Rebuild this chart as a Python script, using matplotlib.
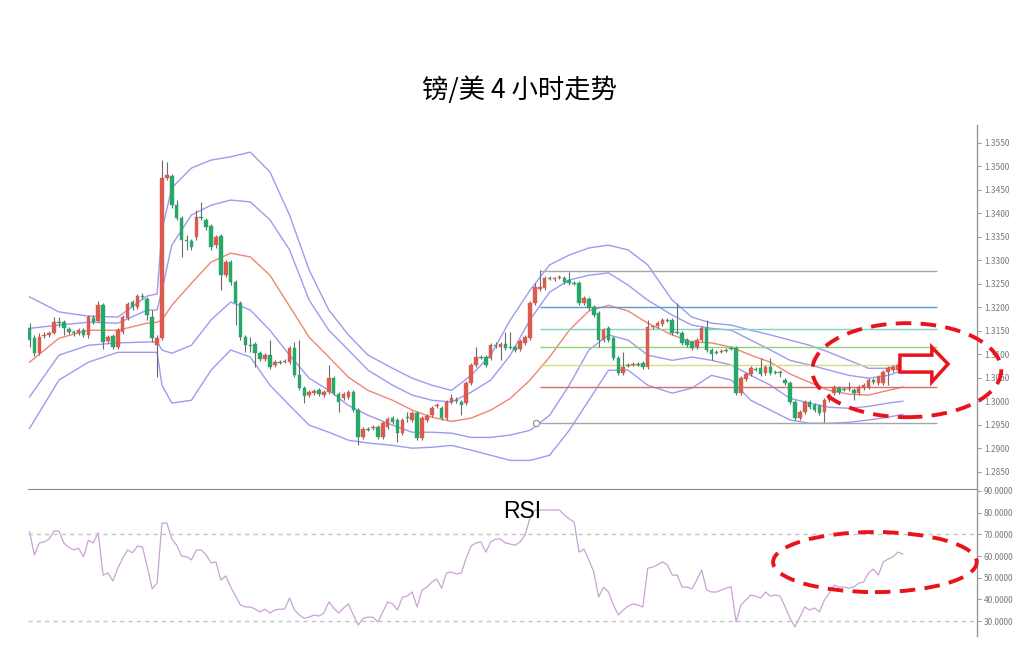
import matplotlib
matplotlib.use("Agg")
import matplotlib.pyplot as plt
from matplotlib.patches import Ellipse, Polygon
from matplotlib.ticker import FormatStrFormatter, MultipleLocator

plt.rcParams['font.family'] = ['Noto Sans CJK SC', 'DejaVu Sans']

# ---- 4h candles (GBP/USD) ----
opens = [1.3155, 1.3134, 1.3102, 1.3138, 1.3141, 1.3145, 1.3168, 1.3168, 1.3153, 1.3147,
         1.3145, 1.3151, 1.3141, 1.3177, 1.3170, 1.3204, 1.3128, 1.3138, 1.3115, 1.3147,
         1.3177, 1.3211, 1.3200, 1.3224, 1.3217, 1.3179, 1.3119, 1.3134, 1.3475, 1.3479,
         1.3417, 1.3390, 1.3343, 1.3341, 1.3349, 1.3392, 1.3386, 1.3373, 1.3332, 1.3351,
         1.3268, 1.3296, 1.3253, 1.3209, 1.3136, 1.3119, 1.3121, 1.3102, 1.3089, 1.3098,
         1.3077, 1.3083, 1.3083, 1.3083, 1.3113, 1.3055, 1.3028, 1.3013, 1.3017, 1.3023,
         1.3013, 1.3019, 1.3049, 1.3015, 1.3006, 1.3009, 1.3019, 1.2981, 1.2923, 1.2940,
         1.2942, 1.2945, 1.2923, 1.2945, 1.2964, 1.2960, 1.2932, 1.2966, 1.2960, 1.2974,
         1.2921, 1.2960, 1.2970, 1.2989, 1.2985, 1.2964, 1.2998, 1.3002, 1.2998, 1.2996,
         1.3038, 1.3077, 1.3094, 1.3094, 1.3092, 1.3119, 1.3115, 1.3121, 1.3115, 1.3115,
         1.3111, 1.3124, 1.3134, 1.3209, 1.3239, 1.3241, 1.3262, 1.3260, 1.3262, 1.3262,
         1.3258, 1.3251, 1.3251, 1.3209, 1.3217, 1.3200, 1.3187, 1.3130, 1.3155, 1.3134,
         1.3092, 1.3060, 1.3077, 1.3077, 1.3079, 1.3081, 1.3072, 1.3158, 1.3160, 1.3164,
         1.3173, 1.3173, 1.3147, 1.3145, 1.3130, 1.3126, 1.3115, 1.3130, 1.3155, 1.3109,
         1.3104, 1.3104, 1.3109, 1.3113, 1.3113, 1.3017, 1.3047, 1.3058, 1.3068, 1.3070,
         1.3060, 1.3072, 1.3062, 1.3062, 1.3045, 1.3038, 1.2998, 1.2964, 1.2977, 1.2998,
         1.2991, 1.2989, 1.2977, 1.3002, 1.3017, 1.3028, 1.3026, 1.3026, 1.3023, 1.3017,
         1.3028, 1.3030, 1.3045, 1.3038, 1.3038, 1.3062, 1.3066, 1.3066, 1.3075]
closes = [1.3130, 1.3102, 1.3136, 1.3141, 1.3145, 1.3168, 1.3167, 1.3155, 1.3147, 1.3145,
          1.3151, 1.3141, 1.3179, 1.3168, 1.3204, 1.3126, 1.3136, 1.3115, 1.3151, 1.3179,
          1.3207, 1.3200, 1.3224, 1.3222, 1.3183, 1.3134, 1.3134, 1.3475, 1.3481, 1.3417,
          1.3390, 1.3343, 1.3341, 1.3328, 1.3392, 1.3390, 1.3371, 1.3328, 1.3349, 1.3268,
          1.3296, 1.3253, 1.3209, 1.3136, 1.3119, 1.3117, 1.3102, 1.3089, 1.3098, 1.3072,
          1.3083, 1.3081, 1.3085, 1.3113, 1.3055, 1.3028, 1.3011, 1.3019, 1.3021, 1.3015,
          1.3019, 1.3049, 1.3017, 1.2998, 1.3015, 1.3019, 1.2981, 1.2923, 1.2940, 1.2938,
          1.2945, 1.2923, 1.2953, 1.2962, 1.2955, 1.2932, 1.2960, 1.2964, 1.2974, 1.2921,
          1.2964, 1.2968, 1.2985, 1.2991, 1.2964, 1.2998, 1.3006, 1.3000, 1.2991, 1.3038,
          1.3077, 1.3094, 1.3092, 1.3077, 1.3119, 1.3117, 1.3121, 1.3113, 1.3113, 1.3109,
          1.3128, 1.3136, 1.3209, 1.3243, 1.3243, 1.3262, 1.3260, 1.3262, 1.3264, 1.3253,
          1.3251, 1.3249, 1.3209, 1.3219, 1.3198, 1.3183, 1.3130, 1.3151, 1.3130, 1.3092,
          1.3060, 1.3072, 1.3075, 1.3079, 1.3077, 1.3072, 1.3158, 1.3160, 1.3166, 1.3173,
          1.3170, 1.3145, 1.3145, 1.3124, 1.3119, 1.3113, 1.3130, 1.3155, 1.3109, 1.3100,
          1.3102, 1.3106, 1.3107, 1.3111, 1.3017, 1.3049, 1.3058, 1.3070, 1.3066, 1.3058,
          1.3072, 1.3060, 1.3060, 1.3060, 1.3038, 1.2998, 1.2964, 1.2977, 1.2998, 1.2987,
          1.2981, 1.2974, 1.3002, 1.3013, 1.3030, 1.3019, 1.3024, 1.3028, 1.3017, 1.3030,
          1.3034, 1.3045, 1.3040, 1.3051, 1.3062, 1.3070, 1.3072, 1.3077, 1.3079]
highs = [1.3166, 1.3141, 1.3145, 1.3147, 1.3149, 1.3179, 1.3179, 1.3173, 1.3158, 1.3151,
         1.3155, 1.3155, 1.3183, 1.3183, 1.3213, 1.3209, 1.3141, 1.3143, 1.3155, 1.3183,
         1.3211, 1.3215, 1.3228, 1.3230, 1.3222, 1.3194, 1.3141, 1.3513, 1.3509, 1.3484,
         1.3428, 1.3394, 1.3354, 1.3345, 1.3407, 1.3424, 1.3390, 1.3377, 1.3354, 1.3356,
         1.3300, 1.3300, 1.3258, 1.3213, 1.3141, 1.3136, 1.3126, 1.3106, 1.3102, 1.3130,
         1.3087, 1.3087, 1.3089, 1.3117, 1.3126, 1.3130, 1.3032, 1.3023, 1.3026, 1.3028,
         1.3023, 1.3077, 1.3053, 1.3019, 1.3019, 1.3023, 1.3023, 1.2985, 1.2945, 1.2945,
         1.2949, 1.2949, 1.2957, 1.2966, 1.2968, 1.2964, 1.2964, 1.2977, 1.2979, 1.2979,
         1.2968, 1.2972, 1.2989, 1.2996, 1.2989, 1.3002, 1.3015, 1.3009, 1.3002, 1.3043,
         1.3081, 1.3115, 1.3098, 1.3098, 1.3124, 1.3126, 1.3126, 1.3147, 1.3147, 1.3119,
         1.3132, 1.3141, 1.3213, 1.3251, 1.3279, 1.3266, 1.3266, 1.3264, 1.3268, 1.3266,
         1.3275, 1.3256, 1.3256, 1.3224, 1.3222, 1.3204, 1.3192, 1.3155, 1.3160, 1.3138,
         1.3096, 1.3104, 1.3081, 1.3083, 1.3083, 1.3085, 1.3173, 1.3162, 1.3170, 1.3177,
         1.3177, 1.3177, 1.3209, 1.3149, 1.3134, 1.3130, 1.3134, 1.3160, 1.3173, 1.3113,
         1.3109, 1.3111, 1.3113, 1.3117, 1.3117, 1.3053, 1.3062, 1.3075, 1.3072, 1.3092,
         1.3077, 1.3092, 1.3066, 1.3066, 1.3049, 1.3043, 1.3002, 1.2981, 1.3002, 1.3002,
         1.2996, 1.2994, 1.3006, 1.3017, 1.3034, 1.3032, 1.3030, 1.3040, 1.3028, 1.3034,
         1.3038, 1.3049, 1.3049, 1.3055, 1.3066, 1.3075, 1.3077, 1.3083, 1.3083]
lows = [1.3115, 1.3096, 1.3098, 1.3134, 1.3136, 1.3143, 1.3158, 1.3141, 1.3143, 1.3138,
        1.3141, 1.3136, 1.3134, 1.3164, 1.3168, 1.3111, 1.3124, 1.3111, 1.3111, 1.3143,
        1.3173, 1.3194, 1.3196, 1.3217, 1.3173, 1.3126, 1.3051, 1.3130, 1.3471, 1.3411,
        1.3386, 1.3307, 1.3322, 1.3322, 1.3343, 1.3386, 1.3364, 1.3322, 1.3326, 1.3236,
        1.3264, 1.3247, 1.3162, 1.3130, 1.3104, 1.3104, 1.3072, 1.3085, 1.3085, 1.3068,
        1.3072, 1.3079, 1.3081, 1.3079, 1.3051, 1.3023, 1.2996, 1.3009, 1.3013, 1.3011,
        1.3009, 1.3015, 1.3013, 1.2977, 1.3002, 1.3004, 1.2977, 1.2906, 1.2919, 1.2936,
        1.2938, 1.2919, 1.2919, 1.2940, 1.2951, 1.2913, 1.2928, 1.2955, 1.2955, 1.2917,
        1.2917, 1.2955, 1.2966, 1.2985, 1.2960, 1.2960, 1.2994, 1.2996, 1.2970, 1.2991,
        1.3034, 1.3072, 1.3089, 1.3072, 1.3087, 1.3113, 1.3087, 1.3109, 1.3111, 1.3104,
        1.3106, 1.3119, 1.3130, 1.3204, 1.3234, 1.3236, 1.3258, 1.3256, 1.3260, 1.3249,
        1.3247, 1.3247, 1.3204, 1.3204, 1.3194, 1.3179, 1.3115, 1.3126, 1.3126, 1.3087,
        1.3055, 1.3055, 1.3072, 1.3075, 1.3075, 1.3068, 1.3068, 1.3153, 1.3155, 1.3160,
        1.3168, 1.3141, 1.3143, 1.3119, 1.3115, 1.3109, 1.3111, 1.3126, 1.3104, 1.3087,
        1.3100, 1.3102, 1.3104, 1.3109, 1.3013, 1.3013, 1.3043, 1.3053, 1.3064, 1.3053,
        1.3055, 1.3055, 1.3058, 1.3051, 1.3034, 1.2994, 1.2960, 1.2960, 1.2972, 1.2983,
        1.2977, 1.2970, 1.2955, 1.2998, 1.3013, 1.3015, 1.3021, 1.3021, 1.3002, 1.3013,
        1.3023, 1.3026, 1.3036, 1.3034, 1.3034, 1.3034, 1.3062, 1.3062, 1.3072]

# ---- Bollinger bands, read at selected candles ----
band_idx = [0, 6, 12, 18, 24, 26, 27, 29, 33, 37, 41, 45, 49, 53, 57, 61, 65, 69, 74, 78,
            82, 86, 90, 94, 98, 102, 106, 110, 114, 118, 122, 126, 131, 135, 139, 143, 147,
            151, 155, 159, 163, 167, 171, 175, 178]
bb_mid = [1.3083, 1.3134, 1.3151, 1.3151, 1.3166, 1.3168, 1.3173, 1.3204, 1.3251, 1.3296,
          1.3315, 1.3307, 1.3268, 1.3202, 1.3136, 1.3094, 1.3051, 1.3023, 1.3002, 1.2981,
          1.2966, 1.2957, 1.2964, 1.2981, 1.3006, 1.3045, 1.3094, 1.3151, 1.3192, 1.3204,
          1.3192, 1.3166, 1.3141, 1.3126, 1.3124, 1.3115, 1.3098, 1.3083, 1.3058, 1.3040,
          1.3023, 1.3015, 1.3013, 1.3023, 1.3030]
bb_up2 = [1.3222, 1.3190, 1.3181, 1.3179, 1.3224, 1.3228, 1.3364, 1.3454, 1.3496, 1.3513,
          1.3520, 1.3530, 1.3488, 1.3396, 1.3279, 1.3194, 1.3141, 1.3098, 1.3070, 1.3049,
          1.3034, 1.3023, 1.3055, 1.3098, 1.3173, 1.3236, 1.3290, 1.3311, 1.3326, 1.3332,
          1.3322, 1.3290, 1.3215, 1.3179, 1.3166, 1.3162, 1.3151, 1.3141, 1.3130, 1.3119,
          1.3104, 1.3087, 1.3070, 1.3070, 1.3081]
bb_up1 = [1.3155, 1.3162, 1.3168, 1.3166, 1.3194, 1.3194, 1.3236, 1.3332, 1.3396, 1.3417,
          1.3428, 1.3424, 1.3386, 1.3322, 1.3215, 1.3151, 1.3109, 1.3066, 1.3034, 1.3013,
          1.3002, 1.2998, 1.3019, 1.3045, 1.3098, 1.3173, 1.3232, 1.3258, 1.3268, 1.3273,
          1.3247, 1.3215, 1.3183, 1.3162, 1.3155, 1.3151, 1.3130, 1.3109, 1.3087, 1.3077,
          1.3066, 1.3055, 1.3049, 1.3055, 1.3066]
bb_lo1 = [1.3009, 1.3098, 1.3119, 1.3124, 1.3126, 1.3126, 1.3109, 1.3102, 1.3119, 1.3173,
          1.3211, 1.3194, 1.3151, 1.3098, 1.3049, 1.3023, 1.2991, 1.2970, 1.2949, 1.2934,
          1.2934, 1.2932, 1.2923, 1.2923, 1.2928, 1.2938, 1.2970, 1.3034, 1.3109, 1.3141,
          1.3130, 1.3098, 1.3087, 1.3094, 1.3087, 1.3077, 1.3055, 1.3034, 1.3006, 1.2996,
          1.2987, 1.2985, 1.2989, 1.2996, 1.3000]
bb_lo2 = [1.2942, 1.3045, 1.3083, 1.3104, 1.3104, 1.3104, 1.3034, 1.2996, 1.3002, 1.3066,
          1.3109, 1.3094, 1.3034, 1.2991, 1.2949, 1.2934, 1.2917, 1.2911, 1.2906, 1.2900,
          1.2902, 1.2906, 1.2896, 1.2885, 1.2874, 1.2874, 1.2885, 1.2938, 1.3002, 1.3066,
          1.3066, 1.3034, 1.3017, 1.3028, 1.3055, 1.3045, 1.3002, 1.2981, 1.2960, 1.2953,
          1.2953, 1.2955, 1.2960, 1.2966, 1.2972]

# ---- Fibonacci retracement ----
fib_high = 1.3278
fib_low = 1.2953
fib_ratios = [0.0, 0.236, 0.382, 0.5, 0.618, 0.764, 1.0]
fib_colors = ['#a6a6a6', '#5b9bd5', '#7fd6bd', '#8fd27a', '#d2df7c', '#e06a6a', '#a6a6a6']
fib_start, fib_end = 104, 185

# ---- RSI, one value per candle ----
rsi = [71.2, 60.5, 66.0, 66.5, 67.8, 71.5, 71.5, 66.0, 64.0, 62.8,
       63.6, 59.6, 67.3, 66.0, 70.8, 51.2, 52.2, 48.5, 54.4, 59.0,
       62.8, 61.5, 64.6, 64.2, 55.0, 44.8, 47.5, 75.2, 75.2, 67.8,
       65.0, 60.0, 59.6, 58.2, 62.8, 62.8, 60.5, 56.8, 57.3, 48.9,
       50.8, 45.7, 41.5, 37.4, 36.5, 36.5, 35.5, 34.2, 35.5, 33.7,
       35.1, 35.5, 35.5, 40.6, 35.1, 32.8, 31.3, 31.8, 32.8, 32.3,
       33.7, 38.8, 36.0, 33.7, 36.0, 37.9, 32.8, 28.2, 31.3, 31.8,
       31.8, 29.6, 34.2, 38.8, 37.9, 35.1, 41.0, 41.5, 43.4, 36.5,
       44.3, 45.7, 48.0, 49.4, 45.2, 52.2, 52.6, 51.7, 52.2, 59.0,
       64.6, 66.0, 66.5, 61.8, 66.5, 67.8, 67.8, 66.0, 65.5, 65.0,
       66.5, 69.7, 77.5, 81.2, 81.2, 81.2, 81.2, 81.2, 81.2, 78.9,
       77.1, 75.7, 61.8, 63.2, 58.2, 52.6, 41.1, 45.7, 43.4, 37.4,
       32.8, 35.1, 36.9, 37.9, 37.4, 36.5, 54.4, 54.9, 55.9, 57.3,
       55.9, 51.2, 51.2, 45.7, 45.7, 44.8, 48.9, 53.5, 44.3, 43.4,
       43.4, 44.3, 45.2, 45.7, 29.6, 37.4, 39.7, 42.0, 41.5, 40.6,
       43.4, 41.5, 42.0, 41.5, 36.5, 31.3, 27.3, 31.8, 36.5, 35.1,
       36.0, 34.2, 39.7, 42.9, 46.6, 45.7, 45.7, 45.2, 45.7, 47.5,
       48.0, 52.2, 54.0, 51.2, 57.3, 58.6, 59.6, 61.8, 60.9]
rsi_levels = [70, 30]

UP_COL = '#dc5a4e'
DOWN_COL = '#27a86b'
BAND_COL = '#9b9cf0'
MID_COL = '#f08572'
MARK_COL = '#e8141c'

fig = plt.figure(figsize=(10.23, 6.5), dpi=100)
ax = fig.add_axes([0.0274, 0.2477, 0.9276, 0.56])
ax_rsi = fig.add_axes([0.0274, 0.0215, 0.9276, 0.2262])

xmin, xmax = -0.3, 193.1

# candles
for i in range(len(closes)):
    o, c, h, l = opens[i], closes[i], highs[i], lows[i]
    col = UP_COL if c >= o else DOWN_COL
    ax.vlines(i, l, h, color='#6b6b6b', lw=0.8, zorder=2)
    ax.bar(i, max(abs(c - o), 0.00006), bottom=min(o, c), width=0.72,
           color=col, edgecolor=col, lw=0.3, zorder=3)

# bands
for band in (bb_up2, bb_up1, bb_lo1, bb_lo2):
    ax.plot(band_idx, band, color=BAND_COL, lw=1.0, zorder=1)
ax.plot(band_idx, bb_mid, color=MID_COL, lw=1.0, zorder=1)

# fibonacci lines
for r, fc in zip(fib_ratios, fib_colors):
    lvl = fib_high - (fib_high - fib_low) * r
    ax.hlines(lvl, fib_start, fib_end, color=fc, lw=1.0, zorder=1)
ax.plot(fib_start - 0.8, fib_low, 'o', ms=4.5, mfc='white', mec='#8a8a8a', mew=0.8, zorder=4)

ax.set_xlim(xmin, xmax)
ax.set_ylim(1.28132, 1.35877)
ax.yaxis.set_major_locator(MultipleLocator(0.005))
ax.yaxis.set_major_formatter(FormatStrFormatter('%.4f'))

# RSI
ax_rsi.plot(range(len(rsi)), rsi, color='#c9a3d3', lw=0.9)
for lv in rsi_levels:
    ax_rsi.axhline(lv, color='#c4c4c4', lw=1.0, ls=(0, (3, 3)))
ax_rsi.set_xlim(xmin, xmax)
ax_rsi.set_ylim(23.1, 90.9)
ax_rsi.set_yticks([30, 40, 50, 60, 70, 80, 90])
ax_rsi.yaxis.set_major_formatter(FormatStrFormatter('%.4f'))

for a in (ax, ax_rsi):
    for s in ('top', 'left', 'bottom'):
        a.spines[s].set_visible(False)
    a.spines['right'].set_color('#9a9a9a')
    a.spines['right'].set_linewidth(1.0)
    a.set_xticks([])
    a.yaxis.tick_right()
    a.tick_params(axis='y', labelsize=6, colors='#9a9a9a', labelcolor='#7a7a7a',
                  length=3, width=0.8, pad=2)
    a.set_facecolor('none')
ax.spines['bottom'].set_visible(True)
ax.spines['bottom'].set_color('#8a8a8a')

# annotations: dashed ellipses and hollow arrow
ax.add_patch(Ellipse((178.8, 1.3066), 38.5, 0.0200, fill=False, ec=MARK_COL, lw=2.8,
                     ls=(0, (4, 2.4)), clip_on=False, zorder=6))
arrow_pts = [(177.4, 1.3098), (183.9, 1.3098), (183.9, 1.3115), (187.2, 1.3079),
             (183.9, 1.3041), (183.9, 1.3062), (177.4, 1.3062)]
ax.add_patch(Polygon(arrow_pts, closed=True, fc='white', ec=MARK_COL, lw=2.5,
                     clip_on=False, zorder=7))
ax_rsi.add_patch(Ellipse((172.3, 57.2), 41.5, 27.7, fill=False, ec=MARK_COL, lw=2.8,
                         ls=(0, (4, 2.4)), clip_on=False, zorder=6))

fig.text(0.508, 1 - 90 / 650, '镑/美 4 小时走势', fontsize=19, ha='center', va='center')
fig.text(522 / 1023, 1 - 512 / 650, 'RSI', fontsize=16.5, ha='center', va='center',
         family=['Liberation Sans', 'DejaVu Sans'])

fig.savefig('out.png', dpi=100)
